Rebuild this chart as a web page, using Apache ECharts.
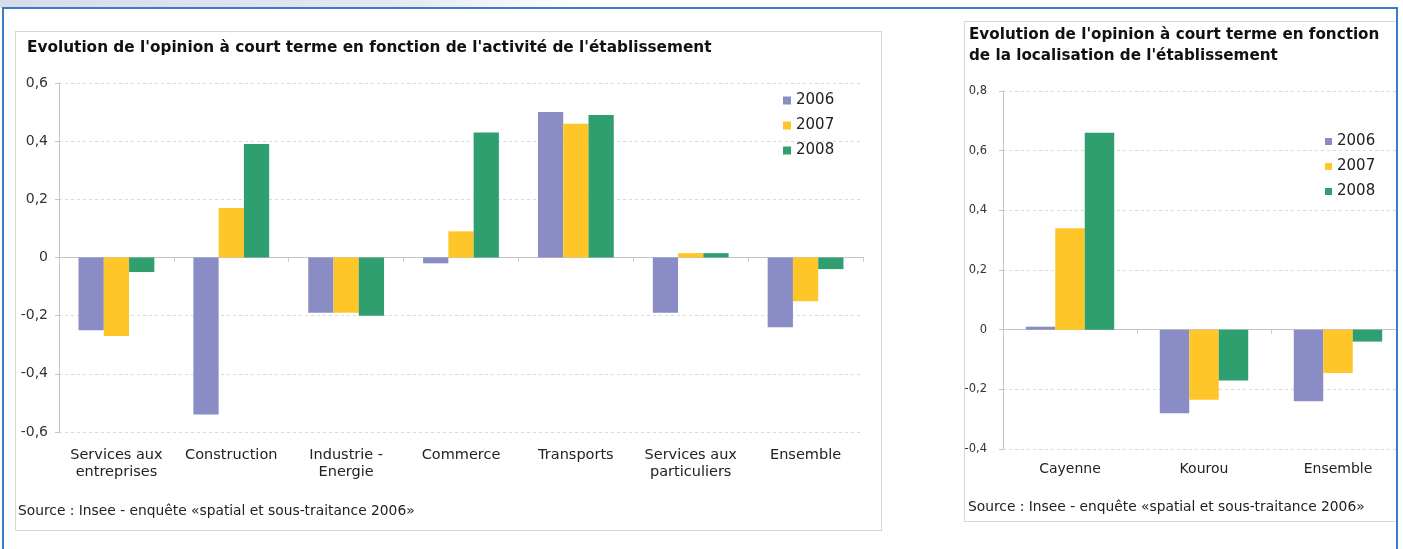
<!DOCTYPE html>
<html>
<head>
<meta charset="utf-8">
<title>Evolution de l'opinion à court terme</title>
<script src="https://cdn.jsdelivr.net/npm/echarts@6/dist/echarts.min.js"></script>
<style>
    html, body { margin: 0; padding: 0; width: 1403px; height: 549px; overflow: hidden; background: #fff; }
    .topbar { position: absolute; left: 0; top: 0; width: 1403px; height: 8px;
        background: linear-gradient(to right, #d6dcea 0%, #e3e8f2 28%, #ffffff 42%, #ffffff 100%); }
    .frame { position: absolute; left: 2px; top: 7px; width: 1392px; height: 560px;
        border: 2px solid #3b7bc8; border-bottom: none; pointer-events: none; z-index: 5; }
    .panel { position: absolute; border: 1px solid #d6d6d6; background: #fff; }
    #panelLeft { left: 15px; top: 31px; width: 865px; height: 498px; }
    #clipRight { position: absolute; left: 964px; top: 21px; width: 432px; height: 503px; overflow: hidden; }
    #panelRight { left: 0; top: 0; width: 458px; height: 499px; }
    .chart { width: 100%; height: 100%; }
</style>
</head>
<body>
<div class="topbar"></div>
<div class="panel" id="panelLeft"><div class="chart" id="chartLeft"></div></div>
<div id="clipRight"><div class="panel" id="panelRight"><div class="chart" id="chartRight"></div></div></div>
<div class="frame"></div>
<script>
// données
var years = ['2006', '2007', '2008'];
var yearColors = ['#8a8cc6', '#ffc629', '#2f9f70'];

// graphique 1 : activité
var activites = ['Services aux\nentreprises', 'Construction', 'Industrie -\nEnergie', 'Commerce',
    'Transports', 'Services aux\nparticuliers', 'Ensemble'];
var activite2006 = [-0.25, -0.54, -0.19, -0.02, 0.50, -0.19, -0.24];
var activite2007 = [-0.27, 0.17, -0.19, 0.09, 0.46, 0.015, -0.15];
var activite2008 = [-0.05, 0.39, -0.20, 0.43, 0.49, 0.015, -0.04];
var activiteTicks = [-0.6, 0.6, 0.2];

// graphique 2 : localisation
var localisations = ['Cayenne', 'Kourou', 'Ensemble'];
var localisation2006 = [0.01, -0.28, -0.24];
var localisation2007 = [0.34, -0.235, -0.145];
var localisation2008 = [0.66, -0.17, -0.04];
var localisationTicks = [-0.4, 0.8, 0.2];

var sourceText = 'Source : Insee - enquête «spatial et sous-traitance 2006»';

(function (win) {
    var font = 'DejaVu Sans';

    function fmt(v) {
        if (Math.abs(v) < 1e-9) return '0';
        return v.toFixed(1).replace('.', ',');
    }

    function buildOption(cfg) {
        var series = [];
        for (var i = 0; i < years.length; i++) {
            series.push({
                name: years[i],
                type: 'bar',
                xAxisIndex: 0,
                data: cfg.values[i],
                itemStyle: { color: yearColors[i] },
                barGap: '0%',
                barCategoryGap: '34%',
                silent: true
            });
        }
        cfg.grid.outerBoundsMode = 'none';
        return {
            animation: false,
            title: [
                {
                    text: cfg.title,
                    left: cfg.titleLeft,
                    top: cfg.titleTop,
                    padding: 0,
                    textStyle: {
                        fontFamily: font, fontSize: cfg.titleSize, fontWeight: 'bold',
                        color: '#111', lineHeight: cfg.titleLineHeight
                    }
                },
                {
                    text: sourceText,
                    left: cfg.sourceLeft,
                    top: cfg.sourceTop,
                    padding: 0,
                    textStyle: { fontFamily: font, fontSize: 13.8, fontWeight: 'normal', color: '#222' }
                }
            ],
            legend: {
                orient: 'vertical',
                left: cfg.legendLeft,
                top: cfg.legendTop,
                padding: 0,
                itemWidth: cfg.legendIcon,
                itemHeight: cfg.legendIcon,
                itemGap: 8,
                icon: 'rect',
                data: years,
                textStyle: { fontFamily: font, fontSize: 15, color: '#222', lineHeight: 17 }
            },
            grid: cfg.grid,
            xAxis: [
                {
                    type: 'category',
                    data: cfg.categories,
                    axisLine: { onZero: true, lineStyle: { color: '#c4c4c4' } },
                    axisTick: { show: true, length: 4, lineStyle: { color: '#c4c4c4' } },
                    axisLabel: { show: false },
                    splitLine: { show: false }
                },
                {
                    type: 'category',
                    position: 'bottom',
                    data: cfg.categories,
                    axisLine: { show: false, onZero: false },
                    axisTick: { show: false },
                    axisLabel: {
                        interval: 0,
                        margin: cfg.xLabelMargin,
                        fontFamily: font,
                        fontSize: cfg.xLabelSize,
                        lineHeight: 17,
                        color: '#222'
                    }
                }
            ],
            yAxis: {
                type: 'value',
                min: cfg.ticks[0],
                max: cfg.ticks[1],
                interval: cfg.ticks[2],
                axisLine: { show: true, lineStyle: { color: '#c4c4c4' } },
                axisTick: { show: true, length: 4, lineStyle: { color: '#c4c4c4' } },
                axisLabel: {
                    formatter: fmt,
                    margin: cfg.yLabelMargin,
                    fontFamily: font,
                    fontSize: cfg.yLabelSize,
                    color: '#333'
                },
                splitLine: { lineStyle: { color: '#dadada', type: [3, 3] } }
            },
            series: series
        };
    }

    var left = echarts.init(document.getElementById('chartLeft'));
    left.setOption(buildOption({
        title: "Evolution de l'opinion à court terme en fonction de l'activité de l'établissement",
        titleLeft: 11, titleTop: 8, titleSize: 15.3, titleLineHeight: 17,
        sourceLeft: 2, sourceTop: 472,
        legendLeft: 767, legendTop: 60, legendIcon: 8,
        grid: { left: 43, right: 18, top: 51, bottom: 98 },
        categories: activites,
        values: [activite2006, activite2007, activite2008],
        ticks: activiteTicks,
        xLabelMargin: 15, xLabelSize: 14.5,
        yLabelMargin: 11, yLabelSize: 14
    }));

    var right = echarts.init(document.getElementById('chartRight'));
    right.setOption(buildOption({
        title: "Evolution de l'opinion à court terme en fonction\nde la localisation de l'établissement",
        titleLeft: 4, titleTop: 3, titleSize: 15.2, titleLineHeight: 21,
        sourceLeft: 3, sourceTop: 478,
        legendLeft: 360, legendTop: 111, legendIcon: 7,
        grid: { left: 38, right: 18, top: 69, bottom: 72 },
        categories: localisations,
        values: [localisation2006, localisation2007, localisation2008],
        ticks: localisationTicks,
        xLabelMargin: 12, xLabelSize: 14,
        yLabelMargin: 16, yLabelSize: 11.5
    }));
})(this);
</script>
</body>
</html>
